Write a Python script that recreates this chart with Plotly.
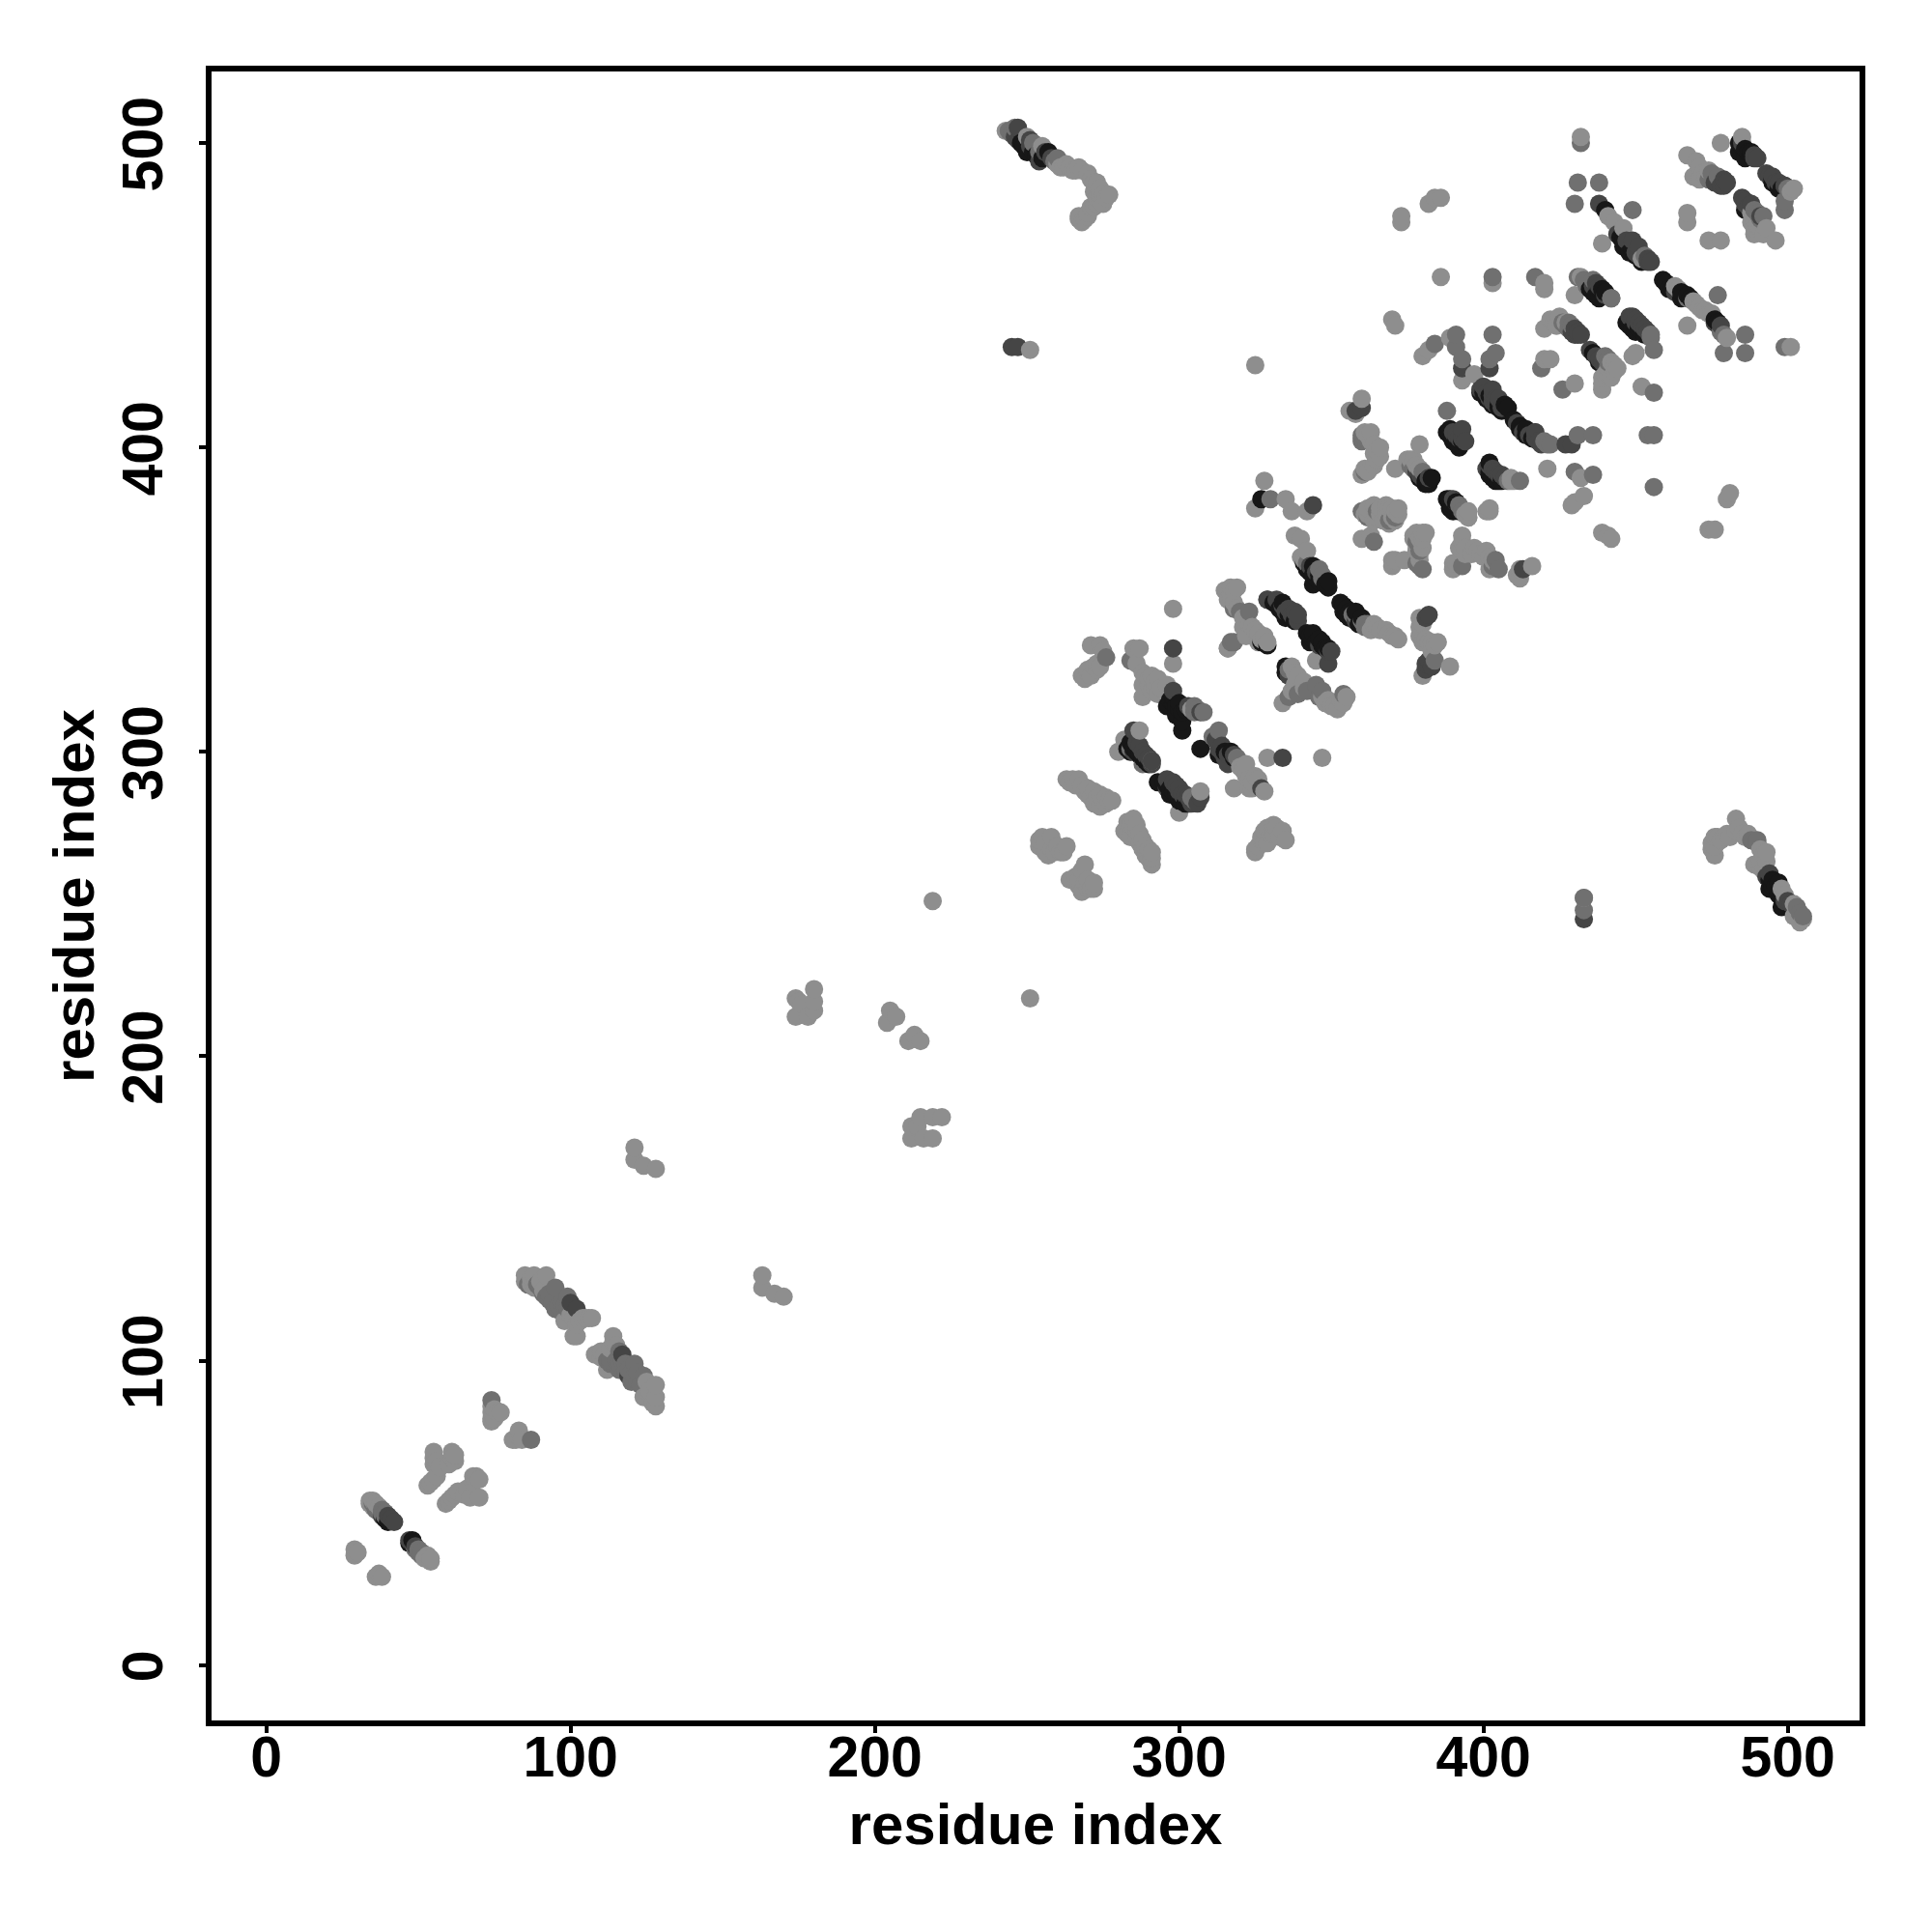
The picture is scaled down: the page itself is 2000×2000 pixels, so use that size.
import plotly.graph_objects as go

tick_values = [0, 100, 200, 300, 400, 500]
axis_label = "residue index"

light_contacts = [
 (29,38),(29,36),(30,37),(36,29),(37,30),(38,29),(34,54),(35,52),(36,53),(37,52),(52,35),(53,36),(54,34),(54,35),
 (53,59),(54,60),(55,61),(56,62),(55,70),(55,68),(55,66),(56,67),(57,65),(61,70),(61,68),(62,69),(62,67),(60,66),
 (59,53),(60,54),(61,55),(62,56),(63,57),(68,62),(69,62),(70,61),(68,60),(70,55),(67,55),(65,56),(66,58),
 (74,85),(75,84),(74,83),(74,81),(76,83),(75,81),(74,80),(77,83),(81,74),(82,74),(83,77),(84,74),(83,75),
 (85,128),(88,128),(92,128),(87,127),(90,126),(88,124),(91,123),(98,113),(101,108),(102,108),(103,113),(105,114),(107,114),
 (114,108),(114,106),(108,102),(110,101),(112,97),(128,92),(128,88),(128,85),(124,88),(126,90),
 (121,170),(121,166),(124,164),(128,163),(163,128),(163,124),(167,122),(170,121),
 (174,219),(174,213),(178,213),(180,222),(180,218),(180,215),(176,217),(175,218),
 (205,215),(204,211),(207,213),(211,205),(215,205),(213,207),(212,173),(212,177),(215,180),(219,173),(219,180),(222,180),(216,173),(214,177),
 (219,251),(251,219),(251,432),
 (243,504),(250,502),(255,499),(262,492),(264,492),(265,491),(267,492),(270,490),(273,487),(276,482),(274,481),(270,477),(271,479),(267,475),(269,475),(272,484),
 (298,347),(298,329),(271,335),(274,335),(273,329),(270,327),(268,325),(271,325),(287,334),(285,334),(286,329),(288,326),(291,325),(288,322),(288,318),(296,322),(293,324),
 (287,307),(282,304),(280,300),(263,291),(265,291),(267,291),(270,288),(271,285),(274,286),(278,284),(274,282),(276,283),
 (307,287),(300,280),(285,278),(282,274),(285,275),(288,271),(291,267),(291,263),(289,269),(286,274),
 (254,271),(258,272),(263,269),(261,267),(257,266),(254,269),(259,267),(269,263),(266,259),(272,257),(270,255),(267,256),(264,258),(271,255),
 (331,276),(334,274),(335,271),(328,274),(328,270),(325,268),(325,267),(327,271),
 (316,334),(318,288),(323,291),(323,288),(327,288),(329,298),(347,298),(322,296),(320,295),(325,292),
 (337,328),(341,323),(334,316),(348,316),(352,314),(354,316),(350,315),(345,330),
 (328,389),(325,380),(335,383),(337,379),(342,379),(338,371),(340,370),(342,366),(325,427),(370,338),(365,341),(368,340),(371,338),
 (379,344),(379,338),(381,337),(384,335),(380,325),(389,328),(383,336),(395,377),(402,379),(401,379),
 (319,354),(317,354),(321,341),(325,340),(322,338),(328,338),(316,334),(317,351),
 (360,416),(356,412),(358,411),(363,405),(366,400),(365,396),(360,391),(371,393),(361,393),(364,398),(379,401),(377,396),(379,393),
 (372,380),(368,378),(370,377),(366,378),(360,370),(363,371),(377,370),(380,372),(380,367),(370,363),(371,363),(370,361),(374,363),
 (393,371),(394,365),(390,360),(399,365),(403,363),(402,360),(397,367),(412,360),(412,357),(416,361),(411,358),
 (373,476),(373,474),(382,480),(384,482),(386,482),(386,456),(403,454),(420,454),(420,452),(430,450),(432,456),
 (370,442),(371,440),(425,443),(422,442),(420,439),(427,441),(424,440),(420,429),(422,429),(443,425),(439,421),(439,419),(430,421),(441,424),
 (380,430),(382,432),(389,436),(397,424),(393,422),(376,396),(409,389),(395,377),(402,380),
 (450,431),(452,420),(421,393),(430,382),(429,381),(433,384),(432,390),(481,385),(480,383),(441,371),(439,372),(442,370),(474,373),(476,373),
 (432,502),(441,476),(443,474),(446,472),(452,462),(439,467),(463,453),(470,447),(472,445),(474,444),(467,440),
 (467,496),(467,477),(467,474),(471,492),(469,489),(474,491),(478,500),(485,502),(502,485),(474,468),(478,468),
 (489,470),(492,470),(496,468),(489,472),(488,477),(501,433),(449,430),
 (433,252),(483,278),(476,272),(475,268),(476,266),(478,271),(480,273),(484,275),(487,273),(493,267),(493,264),(489,263),(498,255),(502,250),(504,244),(502,246),
]

light_contacts_upper_band = [
 (260,493),(261,492),(263,493),(266,491),(268,491),(271,488),(272,487),(274,485),(275,483),(275,480),(273,480),(272,479),(270,476),(268,474),(267,476),(277,483),(274,483),(273,482),
 (475,270),(476,269),(477,272),(479,272),(481,272),(483,274),(485,273),(486,272),(491,268),(492,266),(491,264),(491,262),(492,261),(499,253),(503,247),(505,245),
 (289,325),(290,324),(292,323),(292,321),(294,321),(290,322),(291,320),(293,319),(304,314),(321,294),(322,292),(324,290),(326,291),(328,287),(324,288),
 (264,290),(266,289),(268,289),(269,287),(270,286),(272,287),(273,285),(275,284),(272,283),(276,285),(277,284),
 (283,277),(284,276),(283,273),(286,272),(287,270),(288,268),(289,266),(290,265),(290,268),(291,265),(284,272),(286,276),(287,273),
 (255,272),(256,270),(258,268),(260,269),(262,267),(256,267),(268,261),(267,258),(269,257),(268,254),(270,258),(272,255),
 (326,269),(327,272),(329,275),(330,273),(332,275),(333,272),(329,270),(331,273),(269,324),(270,326),(272,328),(273,327),(274,328),(275,333),
 (338,326),(339,325),(338,322),(337,320),(341,321),(347,318),(349,317),(351,315),(353,317),(355,318),(340,364),(341,363),
 (363,340),(364,342),(366,340),(369,339),(372,337),(380,342),(379,341),(382,336),(380,336),(383,333),(385,336),
 (315,353),(317,352),(318,353),(316,350),(318,349),(319,347),(321,344),(323,342),(324,341),(326,339),(327,337),(326,336),(329,336),
 (361,405),(362,404),(363,402),(364,401),(365,399),(366,397),(364,394),(362,392),
 (361,378),(362,380),(364,381),(366,380),(368,381),(369,380),(370,380),(371,379),(372,378),(371,376),(369,375),(367,376),(365,377),(362,378),(364,376),
 (377,371),(378,372),(378,368),(379,370),(379,365),(379,363),(378,366),(380,370),(381,372),
 (393,369),(392,367),(394,367),(391,362),(396,365),(398,366),(400,364),(401,366),(402,364),(404,362),(390,362),
 (375,396),(378,394),(409,390),(410,389),(394,378),(395,379),(423,441),(424,440),(425,442),(442,428),(443,427),(444,426),(441,426),(440,424),(439,423),(442,423),
 (464,452),(469,448),(471,446),(473,445),(475,444),(480,436),(470,494),(472,490),(473,489),(471,488),(501,484),(488,474),(489,475),(490,473),(491,472),(493,472),
 (85,126),(87,125),(100,115),(101,114),(104,114),(106,114),(102,112),(110,103),(111,102),(115,105),(113,104),(125,93),(126,89),(127,86),(34,53),(35,54),
]

mid_contacts = [
 (35,53),(38,51),(39,50),(50,38),(51,37),(86,125),(92,121),(95,124),(99,121),(95,117),(97,119),
 (113,100),(121,99),(124,95),(120,93),(123,92),(116,99),(118,97),(87,74),(74,87),
 (246,505),(252,500),(260,495),(284,330),(276,331),
 (308,313),(313,307),(311,305),(318,336),(284,301),(288,296),(291,297),
 (329,350),(336,318),(345,322),(346,318),(354,319),(384,330),(330,383),(358,345),(361,342),(318,347),(323,346),(317,336),
 (360,379),(365,379),(364,369),(380,360),(393,361),(405,360),(360,403),(361,403),
 (431,487),(438,487),(430,480),(449,478),(477,450),(479,437),(479,431),(486,437),(486,431),(499,433),
 (403,456),(417,456),(431,456),(436,455),(442,449),(455,436),(456,432),(391,437),(403,437),(384,434),(391,433),(393,429),(404,431),(402,429),
 (388,412),(419,426),(441,428),(426,419),(456,418),(422,401),(431,404),(436,404),(454,404),(456,404),(456,387),(436,391),(430,392),(412,389),(433,252),
 (433,248),(490,271),(499,481),(499,478),(504,247),(492,476),(432,500),
]

mid_contacts_upper_band = [
 (244,504),(245,503),(254,497),(259,494),(488,271),(490,270),(503,249),(505,246),(305,313),(306,314),(305,315),(319,298),(304,285),(305,284),
 (336,327),(339,319),(342,320),(347,320),(342,362),(346,360),(347,357),(347,358),(357,345),(360,343),(361,341),(362,342),(320,346),
 (379,361),(378,362),(403,361),(404,363),(376,394),(377,393),(380,392),(408,389),(392,381),(393,379),(420,402),(421,401),
 (433,455),(434,453),(442,449),(455,437),(426,441),(427,440),(428,439),(428,441),(429,440),(440,430),(441,429),(453,463),
 (467,449),(478,438),(474,488),(475,490),(477,489),(500,485),(489,478),(490,477),(491,475),
 (89,125),(90,124),(91,122),(93,122),(93,120),(94,119),(96,118),(97,116),(98,118),(99,117),
 (112,100),(113,99),(115,100),(116,97),(117,100),(118,99),(119,97),(120,96),(121,95),(122,96),(122,93),(116,103),
 (38,50),(39,49),(36,52),(36,51),(49,38),(50,37),(51,36),
 (369,376),(371,377),(378,369),(379,366),(362,377),(360,402),(360,404),(361,392),
]

dark_contacts = [
 (38,49),(40,49),(41,48),(42,47),(47,41),(48,40),(49,39),(102,117),(100,119),(117,102),(119,95),
 (247,505),(251,501),(254,494),(298,334),(245,433),(247,433),(433,245),
 (344,381),(382,345),(381,344),(349,329),(307,313),(285,307),(288,300),(291,297),(285,300),
 (296,291),(296,288),(300,288),(302,286),(304,283),(307,285),(329,350),(334,298),(327,288),(316,296),(318,299),
 (337,345),(346,335),(383,328),(404,416),(358,412),(360,413),
 (393,426),(402,426),(403,419),(393,406),(402,394),(406,391),(417,405),(427,401),(429,401),
 (438,480),(447,468),(449,468),(451,466),(454,462),(436,453),(440,450),(448,443),(450,441),(431,437),(438,429),
 (480,487),(479,486),(485,500),(489,496),(495,489),(486,481),(491,476),(499,486),
 (494,260),(500,251),(417,405),(413,360),
]

dark_contacts_upper_band = [
 (246,502),(247,501),(251,499),(256,497),(258,495),(493,259),(499,251),(501,250),(298,320),(303,315),(312,304),(313,303),(314,302),(313,301),(314,300),(315,298),(316,299),
 (286,303),(287,302),(289,299),(290,298),(291,296),(298,290),(299,289),(300,287),(301,286),(303,285),(306,283),
 (332,350),(334,348),(335,346),(336,347),(338,346),(339,345),(339,343),(349,333),(350,333),(336,325),(382,330),(381,329),(381,327),
 (343,361),(345,359),(358,343),
 (399,419),(400,420),(401,418),(402,416),(403,415),(404,414),(406,413),(405,416),(403,417),
 (390,405),(391,404),(392,403),(393,403),(394,402),(411,408),(413,405),(415,404),(417,403),(418,402),(419,401),
 (378,392),(379,391),(380,390),(382,390),(401,393),(403,393),(404,392),(405,391),(407,390),(390,383),(391,382),
 (437,454),(438,453),(449,443),(450,442),(451,441),(452,440),(453,439),(454,438),(429,438),(430,437),(430,439),(431,438),(432,437),
 (435,432),(437,430),(439,428),(444,470),(450,464),(451,463),(454,461),(455,461),(463,451),(476,441),(478,440),
 (476,487),(478,486),(479,488),(489,495),(490,495),(493,490),(494,489),(496,487),(497,487),(499,486),(487,479),(488,480),(485,482),(486,480),
]

black_contacts = [
 (39,48),(40,47),(47,40),(48,41),(250,497),(257,497),(255,495),(301,307),(307,301),(298,318),(300,316),(302,314),(296,315),(299,312),(301,310),
 (313,299),(315,300),(318,298),(283,301),(284,303),(293,290),(297,286),(300,284),(303,283),
 (329,335),(327,336),(335,328),(334,349),(334,346),(338,343),(327,383),
 (344,361),(341,362),(344,355),(348,355),(346,358),(354,348),(355,345),(360,344),(358,346),(344,337),(349,334),(347,336),
 (405,414),(407,414),(400,418),(402,417),(389,406),(393,402),(392,400),(390,402),(412,407),(410,409),(414,406),
 (402,395),(402,391),(404,389),(382,388),(381,388),(379,390),(383,390),(389,383),(389,380),(391,382),(390,379),
 (440,478),(446,466),(448,464),(450,463),(452,461),(460,454),(462,452),(465,451),(467,450),(477,441),(476,442),
 (486,495),(488,497),(484,497),(495,487),(497,485),(486,478),(438,452),(453,437),(451,439),(498,249),(497,257),(494,255),(495,258),
]

black_contacts_upper_band = [
 (248,500),(249,499),(252,497),(253,496),(494,258),(495,256),(496,256),(497,254),(497,253),(498,252),
 (297,317),(298,316),(299,315),(300,314),(301,313),(317,300),(284,300),(285,301),(286,300),(287,299),(288,298),(289,297),(290,296),
 (295,290),(296,289),(297,288),(298,287),(299,286),(300,285),(301,284),(302,283),
 (331,349),(333,347),(336,345),(337,344),(335,344),(342,339),(343,338),(344,339),(345,336),(346,337),(347,335),(348,334),(343,336),(335,326),
 (342,360),(343,359),(344,358),(345,357),(346,356),(349,356),(349,354),(353,349),(354,346),(355,347),(356,346),(356,344),(359,342),
 (399,418),(401,416),(403,414),(405,413),(406,412),(408,413),(388,405),(389,404),(390,403),(391,402),(392,401),
 (412,406),(414,404),(416,403),(381,389),(402,392),(403,390),(405,389),(406,389),(389,382),(390,381),(391,380),(392,379),(388,383),
 (435,452),(436,451),(437,450),(438,449),(439,452),(440,451),(447,441),(448,440),(449,439),(450,438),(436,431),(438,428),
 (445,469),(446,468),(447,467),(449,465),(459,455),(461,452),(465,449),(468,449),(484,500),(485,499),(486,498),(487,497),(488,496),(495,488),(498,485),
]

tiers = [
    (light_contacts + light_contacts_upper_band, "#8e8e8e"),
    (mid_contacts + mid_contacts_upper_band, "#707070"),
    (dark_contacts + dark_contacts_upper_band, "#454545"),
    (black_contacts + black_contacts_upper_band, "#171717"),
]
points = []
for contacts, shade in tiers:
    for i, j in contacts:
        points.append((i, j, shade))
points.sort(key=lambda p: (p[0], p[1]))

fig = go.Figure(go.Scatter(
    x=[p[0] for p in points], y=[p[1] for p in points], mode="markers",
    marker=dict(size=19, color=[p[2] for p in points], line=dict(width=0)),
    hoverinfo="skip",
))
tickfont = dict(family="Liberation Sans", size=59, color="black", weight=700)
titlefont = dict(family="Liberation Sans", size=60, color="black", weight=700)
common = dict(tickvals=tick_values, ticks="outside", ticklen=7, tickwidth=4, tickcolor="black",
              showline=True, mirror=True, linecolor="black", linewidth=6,
              showgrid=False, zeroline=False, tickfont=tickfont)
fig.update_xaxes(range=[-18, 523.6], ticklabelstandoff=-26,
                 title=dict(text=axis_label, font=titlefont, standoff=18), **common)
fig.update_yaxes(range=[-18.2, 523.5], tickangle=-90, ticklabelstandoff=14, ticklabelshift=10,
                 title=dict(text=axis_label, font=titlefont, standoff=0), **common)
fig.update_layout(width=2000, height=2000, margin=dict(l=219, r=75, t=74, b=219, autoexpand=False),
                  plot_bgcolor="white", paper_bgcolor="white", showlegend=False)
fig.write_html("out.html", post_script="document.body.style.margin='0';",
               config=dict(displayModeBar=False))
